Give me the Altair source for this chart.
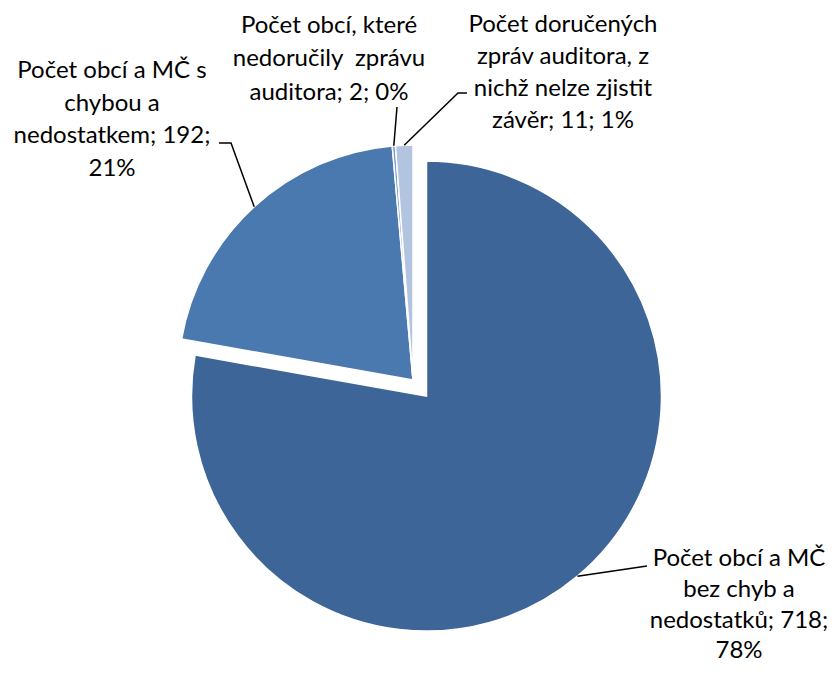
import math
import pandas as pd
import altair as alt

# ---- data ----
categories = [
    "Počet obcí a MČ bez chyb a nedostatků",
    "Počet obcí a MČ s chybou a nedostatkem",
    "Počet obcí, které nedoručily  zprávu auditora",
    "Počet doručených zpráv auditora, z nichž nelze zjistit závěr",
]
values = [718, 192, 2, 11]
label_lines = [
    ["Počet obcí a MČ", "bez chyb a", "nedostatků; {v};", "{p}%"],
    ["Počet obcí a MČ s", "chybou a", "nedostatkem; {v};", "{p}%"],
    ["Počet obcí, které", "nedoručily\u00a0 zprávu", "auditora; {v}; {p}%"],
    ["Počet doručených", "zpráv auditora, z", "nichž nelze zjistit", "závěr; {v}; {p}%"],
]
colors = ["#3E6597", "#4A79B0", "#7E9DCD", "#B3C4E0"]

# ---- layout (chart pixel coordinates; page = chart + 8) ----
W, H = 820, 658
CX, CY, R = 405, 372, 235
explode = [21, 0, 0, 0]
label_pos = [(731, 558), (104, 70), (321, 25), (555, 24)]   # center x, first baseline
label_lh = [30.8, 32.6, 33.3, 32.0]
leader_ends = [
    [(639, 558)],
    [(223, 135), (211, 135)],
    [(389, 99)],
    [(450, 85), (459, 85)],
]
FONT = "Lato"
FS = 24

total = sum(values)
rows, lbl, lead = [], [], []
cum = 0
for i, (c, v) in enumerate(zip(categories, values)):
    t0 = cum / total * 2 * math.pi
    t1 = (cum + v) / total * 2 * math.pi
    cum += v
    tm = (t0 + t1) / 2
    cx = CX + explode[i] * math.sin(tm)
    cy = CY - explode[i] * math.cos(tm)
    rows.append(dict(cat=c, value=v, t0=t0, t1=t1, cx=cx, cy=cy))
    p = round(v / total * 100)
    text = "\n".join(s.format(v=v, p=p) for s in label_lines[i])
    lbl.append(dict(cat=c, x=label_pos[i][0], y=label_pos[i][1], text=text))
    pts = [(cx + R * math.sin(tm), cy - R * math.cos(tm))] + leader_ends[i]
    for k, (px, py) in enumerate(pts):
        lead.append(dict(cat=c, o=k, x=px, y=py))

slices = pd.DataFrame(rows)
labels = pd.DataFrame(lbl)
leaders = pd.DataFrame(lead)

xs = alt.Scale(domain=[0, W], nice=False, zero=False)
ys = alt.Scale(domain=[H, 0], nice=False, zero=False)

pie = alt.Chart(slices).mark_arc(radius=R, stroke="white", strokeWidth=1.5).encode(
    x=alt.X("cx:Q", scale=xs, axis=None),
    y=alt.Y("cy:Q", scale=ys, axis=None),
    theta=alt.Theta("t0:Q", scale=None),
    theta2=alt.Theta2("t1:Q"),
    color=alt.Color("cat:N", scale=alt.Scale(domain=categories, range=colors), legend=None),
)

lines = alt.Chart(leaders).mark_line(color="black", strokeWidth=1.5).encode(
    x=alt.X("x:Q", scale=xs, axis=None),
    y=alt.Y("y:Q", scale=ys, axis=None),
    detail="cat:N",
    order="o:O",
)

text_layers = [
    alt.Chart(labels.iloc[[i]]).mark_text(
        font=FONT, fontSize=FS, lineHeight=label_lh[i], lineBreak="\n",
        align="center", baseline="alphabetic", color="black",
    ).encode(
        x=alt.X("x:Q", scale=xs, axis=None),
        y=alt.Y("y:Q", scale=ys, axis=None),
        text="text:N",
    )
    for i in range(len(categories))
]

chart = alt.layer(pie, lines, *text_layers).properties(
    width=W, height=H, padding=0, autosize="none"
).configure_view(stroke=None)

chart.save("out.html", embed_options={"renderer": "svg", "actions": False})
